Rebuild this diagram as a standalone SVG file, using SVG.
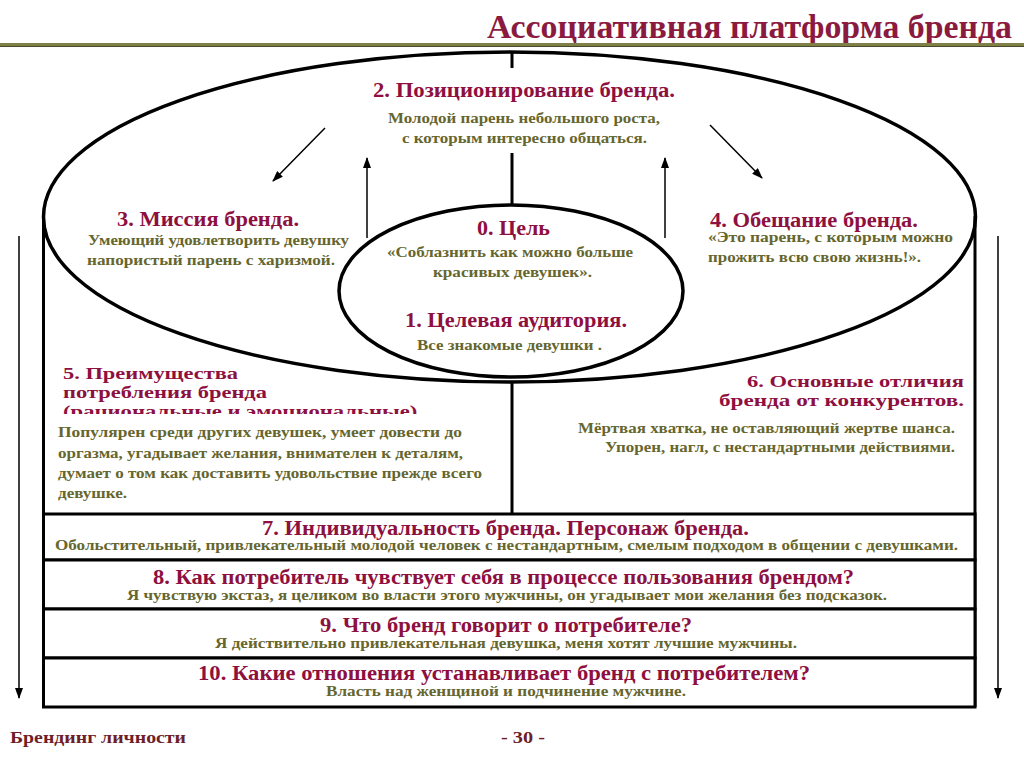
<svg xmlns="http://www.w3.org/2000/svg" width="1024" height="768" viewBox="0 0 1024 768">
<defs>
<style>
text{font-family:"Liberation Serif","Times New Roman",serif;font-weight:bold}
.ttl{fill:#8B1A3F;font-size:33px}
.h{fill:#8E1040;font-size:20px}
.hs{fill:#8E1040;font-size:17px}
.b{fill:#66662E;font-size:14.5px}
.ft{fill:#6E1E28;font-size:17px}
.thick{fill:none;stroke:#000;stroke-width:3.5}
.frame{fill:none;stroke:#000;stroke-width:3}
.row{fill:#fff;stroke:#000;stroke-width:3}
.thin{fill:none;stroke:#000;stroke-width:1.5}
</style>
<marker id="ah" markerUnits="userSpaceOnUse" markerWidth="11" markerHeight="8" refX="10" refY="4" orient="auto">
<path d="M0,0 L11,4 L0,8 z" fill="#000"/>
</marker>
<clipPath id="clip5"><rect x="40" y="350" width="470" height="64"/></clipPath>
</defs>
<rect width="1024" height="768" fill="#fff"/>
<g id="header">
<text class="ttl" x="487" y="38" textLength="525" lengthAdjust="spacingAndGlyphs">Ассоциативная платформа бренда</text>
<line x1="0" y1="44.5" x2="1024" y2="44.5" stroke="#7F7F48" stroke-width="3"/>
<line x1="0" y1="46.5" x2="1024" y2="46.5" stroke="#4A4A2A" stroke-width="1"/>
</g>
<g id="frame">
<line class="frame" x1="43.5" y1="212" x2="43.5" y2="707"/>
<line class="frame" x1="975" y1="216" x2="975" y2="707"/>
<line class="frame" x1="512" y1="382" x2="512" y2="514"/>
</g>
<g id="outer-ellipse">
<ellipse class="thick" cx="509.5" cy="217" rx="466" ry="165"/>
</g>
<g id="connectors">
<line class="frame" x1="512" y1="52" x2="512" y2="68"/>
<line class="frame" x1="512" y1="153" x2="512" y2="205"/>
<line class="thin" x1="325" y1="128" x2="273" y2="181" marker-end="url(#ah)"/>
<line class="thin" x1="367" y1="238" x2="367" y2="158" marker-end="url(#ah)"/>
<line class="thin" x1="665" y1="238" x2="665" y2="158" marker-end="url(#ah)"/>
<line class="thin" x1="710" y1="125" x2="762" y2="178" marker-end="url(#ah)"/>
<line class="thin" x1="19" y1="236" x2="19" y2="698" marker-end="url(#ah)"/>
<line class="thin" x1="998" y1="236" x2="998" y2="698" marker-end="url(#ah)"/>
</g>
<g id="node-2">
<text class="h" x="373" y="97" textLength="302" lengthAdjust="spacingAndGlyphs">2. Позиционирование бренда.</text>
<text class="b" x="388" y="123" textLength="272" lengthAdjust="spacingAndGlyphs">Молодой парень небольшого роста,</text>
<text class="b" x="402" y="143" textLength="245" lengthAdjust="spacingAndGlyphs">с которым интересно общаться.</text>
</g>
<g id="node-3">
<text class="h" x="117" y="226" textLength="182" lengthAdjust="spacingAndGlyphs">3. Миссия бренда.</text>
<text class="b" x="88" y="245" textLength="261" lengthAdjust="spacingAndGlyphs">Умеющий удовлетворить девушку</text>
<text class="b" x="87" y="265" textLength="248" lengthAdjust="spacingAndGlyphs">напористый парень с харизмой.</text>
</g>
<g id="node-4">
<text class="h" x="710" y="227" textLength="208" lengthAdjust="spacingAndGlyphs">4. Обещание бренда.</text>
<text class="b" x="708" y="242" textLength="245" lengthAdjust="spacingAndGlyphs">«Это парень, с которым можно</text>
<text class="b" x="708" y="262" textLength="213" lengthAdjust="spacingAndGlyphs">прожить всю свою жизнь!».</text>
</g>
<g id="node-0-1">
<ellipse class="thick" cx="511" cy="291" rx="172" ry="86" fill="#fff"/>
<text class="h" x="477" y="235" textLength="73" lengthAdjust="spacingAndGlyphs">0. Цель</text>
<text class="b" x="387" y="257" textLength="246" lengthAdjust="spacingAndGlyphs">«Соблазнить как можно больше</text>
<text class="b" x="433" y="277" textLength="159" lengthAdjust="spacingAndGlyphs">красивых девушек».</text>
<text class="h" x="405" y="327" textLength="222" lengthAdjust="spacingAndGlyphs">1. Целевая аудитория.</text>
<text class="b" x="417" y="350" textLength="185" lengthAdjust="spacingAndGlyphs">Все знакомые девушки .</text>
</g>
<g id="node-5">
<g clip-path="url(#clip5)">
<text class="hs" x="63" y="379" textLength="175" lengthAdjust="spacingAndGlyphs">5. Преимущества</text>
<text class="hs" x="63" y="398" textLength="204" lengthAdjust="spacingAndGlyphs">потребления бренда</text>
<text class="hs" x="63" y="417" textLength="360" lengthAdjust="spacingAndGlyphs">(рациональные и эмоциональные).</text>
</g>
<text class="b" x="58" y="437" textLength="404" lengthAdjust="spacingAndGlyphs">Популярен среди  других девушек,  умеет довести до</text>
<text class="b" x="58" y="458" textLength="405" lengthAdjust="spacingAndGlyphs">оргазма,  угадывает  желания, внимателен к деталям,</text>
<text class="b" x="58" y="478" textLength="424" lengthAdjust="spacingAndGlyphs">думает о том как доставить удовольствие прежде всего</text>
<text class="b" x="58" y="498" textLength="69" lengthAdjust="spacingAndGlyphs">девушке.</text>
</g>
<g id="node-6">
<text class="hs" x="747" y="387" textLength="217" lengthAdjust="spacingAndGlyphs">6. Основные отличия</text>
<text class="hs" x="719" y="406" textLength="245" lengthAdjust="spacingAndGlyphs">бренда от  конкурентов.</text>
<text class="b" x="578" y="433" textLength="377" lengthAdjust="spacingAndGlyphs">Мёртвая хватка, не оставляющий жертве шанса.</text>
<text class="b" x="605" y="452" textLength="350" lengthAdjust="spacingAndGlyphs">Упорен, нагл, с нестандартными действиями.</text>
</g>
<g id="node-7">
<rect class="row" x="43.5" y="514" width="931.5" height="46"/>
<text class="h" x="262" y="535" textLength="487" lengthAdjust="spacingAndGlyphs">7. Индивидуальность бренда. Персонаж бренда.</text>
<text class="b" x="55" y="550" textLength="903" lengthAdjust="spacingAndGlyphs">Обольстительный, привлекательный молодой человек с нестандартным, смелым подходом в общении с девушками.</text>
</g>
<g id="node-8">
<rect class="row" x="43.5" y="560" width="931.5" height="49"/>
<text class="h" x="153" y="584" textLength="701" lengthAdjust="spacingAndGlyphs">8. Как потребитель чувствует себя в процессе пользования брендом?</text>
<text class="b" x="127" y="600" textLength="760" lengthAdjust="spacingAndGlyphs">Я чувствую экстаз, я целиком во власти этого мужчины, он угадывает мои желания без подсказок.</text>
</g>
<g id="node-9">
<rect class="row" x="43.5" y="609" width="931.5" height="49"/>
<text class="h" x="320" y="632" textLength="372" lengthAdjust="spacingAndGlyphs">9. Что бренд говорит о потребителе?</text>
<text class="b" x="215" y="648" textLength="582" lengthAdjust="spacingAndGlyphs">Я  действительно привлекательная девушка, меня хотят лучшие мужчины.</text>
</g>
<g id="node-10">
<rect class="row" x="43.5" y="658" width="931.5" height="49"/>
<text class="h" x="198" y="680" textLength="612" lengthAdjust="spacingAndGlyphs">10. Какие отношения устанавливает бренд с потребителем?</text>
<text class="b" x="326" y="696" textLength="360" lengthAdjust="spacingAndGlyphs">Власть над женщиной и подчинение мужчине.</text>
</g>
<g id="footer">
<text class="ft" x="10" y="743" textLength="176" lengthAdjust="spacingAndGlyphs">Брендинг личности</text>
<text class="ft" x="501" y="743" textLength="44" lengthAdjust="spacingAndGlyphs">- 30 -</text>
</g>
</svg>
